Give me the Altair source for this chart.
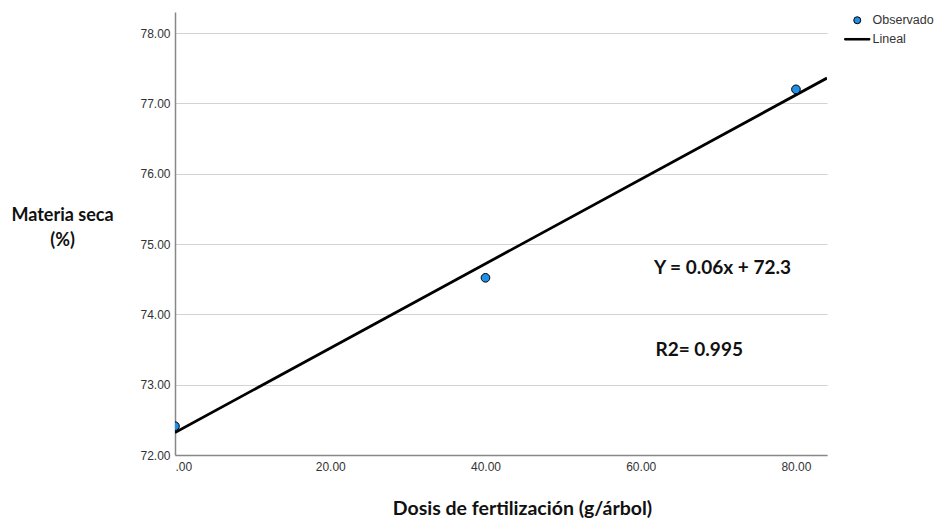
import altair as alt
import pandas as pd

# Observed data
dosis = [0, 40, 80]
materia_seca = [72.41, 74.52, 77.20]

# Fitted linear line (end points)
linea_x = [0, 84]
linea_y = [72.32, 77.36]

eq_text = ["Y = 0.06x + 72.3", "R2= 0.995"]
eq_x = [61.7, 61.9]
eq_y = [74.66, 73.49]

series = ["Observado", "Lineal"]

obs = pd.DataFrame({"x": dosis, "y": materia_seca, "serie": ["Observado"] * len(dosis)})
lin = pd.DataFrame({"x": linea_x, "y": linea_y})
ann = pd.DataFrame({"x": eq_x, "y": eq_y, "t": eq_text})

xscale = alt.Scale(domain=[0, 84], nice=False, zero=False)
yscale = alt.Scale(domain=[72, 78.3], nice=False, zero=False)

xaxis = alt.Axis(
    title="Dosis de fertilización (g/árbol)",
    values=[0, 20, 40, 60, 80],
    labelExpr="datum.value == 0 ? '.00' : format(datum.value, '.2f')",
    grid=False, ticks=False, domainColor="#888888", domainWidth=1.5,
    labelFont="Liberation Sans", labelFontSize=12, labelColor="#333333", labelPadding=6,
    titleFont="Lato", titleFontSize=19.5, titleFontWeight="bold", titleColor="#111111",
    titleX=347, titleAlign="center", titleY=53, titleBaseline="middle",
)
yaxis = alt.Axis(
    title=["Materia seca", "(%)"],
    values=[72, 73, 74, 75, 76, 77, 78],
    format=".2f",
    grid=True, gridColor="#d3d3d3", gridWidth=1,
    ticks=False, domainColor="#888888", domainWidth=1.5,
    labelFont="Liberation Sans", labelFontSize=12, labelColor="#333333", labelPadding=5,
    titleFont="Lato", titleFontSize=18, titleFontWeight="bold", titleColor="#111111",
    titleAngle=0, titleX=-113, titleY=203, titleAlign="center", titleBaseline="middle",
    titleLineHeight=25,
)

line_shape = "M-3.6,-0.22L3.6,-0.22L3.6,0.22L-3.6,0.22Z"

leg = alt.Legend(
    title=None, orient="none", legendX=676, legendY=2,
    symbolSize=49, symbolStrokeColor="black", symbolStrokeWidth=1,
    labelFont="Liberation Sans", labelFontSize=12.5, labelColor="#333333",
    labelOffset=9, rowPadding=6, padding=0,
)

points = alt.Chart(obs).mark_point(filled=True, size=75, stroke="black", strokeWidth=1, opacity=1, clip=True).encode(
    x=alt.X("x:Q", scale=xscale, axis=xaxis),
    y=alt.Y("y:Q", scale=yscale, axis=yaxis),
    color=alt.Color("serie:N", scale=alt.Scale(domain=series, range=["#1E90E8", "#000000"]), legend=leg),
    shape=alt.Shape("serie:N", scale=alt.Scale(domain=series, range=["circle", line_shape]), legend=leg),
)

line = alt.Chart(lin).mark_line(color="black", strokeWidth=2.8, clip=True).encode(
    x=alt.X("x:Q", scale=xscale),
    y=alt.Y("y:Q", scale=yscale),
)

texts = alt.Chart(ann).mark_text(
    align="left", baseline="middle", font="Lato", fontSize=19, fontWeight="bold", color="#111111"
).encode(
    x=alt.X("x:Q", scale=xscale),
    y=alt.Y("y:Q", scale=yscale),
    text="t:N",
)

chart = alt.layer(line, points, texts).properties(
    width=652, height=443,
    autosize=alt.AutoSizeParams(type="none"),
    padding={"left": 167, "top": 4, "right": 108, "bottom": 64},
).configure_view(stroke=None).configure_legend(padding=0)

chart.save("out.html", embed_options={"renderer": "svg", "actions": False})
